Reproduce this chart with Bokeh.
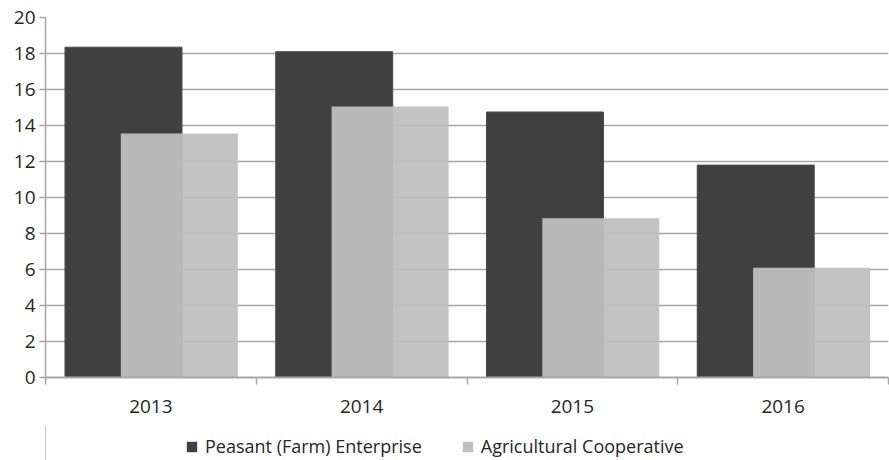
from bokeh.plotting import figure
from bokeh.layouts import column
from bokeh.models import ColumnDataSource, FixedTicker, SingleIntervalTicker, Range1d, Legend, LegendItem
from bokeh.embed import file_html
from bokeh.resources import INLINE

years = ["2013", "2014", "2015", "2016"]
peasant = [18.35, 18.1, 14.75, 11.8]
coop = [13.55, 15.05, 8.85, 6.1]
series_names = ["Peasant (Farm) Enterprise", "Agricultural Cooperative"]

FONT = "Open Sans"
GRID = "#a6a6a6"
TEXT = "#262626"
DARK = "#404040"
LIGHT = "#bfbfbf"

idx = list(range(len(years)))
centers = [i + 0.5 for i in idx]
src = ColumnDataSource(dict(
    xd=[c - 0.13 for c in centers],
    xl=[c + 0.135 for c in centers],
    peasant=peasant,
    coop=coop,
))

p = figure(width=889, height=425, output_backend="svg", toolbar_location=None,
           x_range=Range1d(0, len(years)), y_range=Range1d(0, 20),
           min_border_left=45, min_border_right=1, min_border_top=17, min_border_bottom=48)
p.outline_line_color = None
p.background_fill_color = "white"

r1 = p.vbar(x="xd", top="peasant", width=0.555, source=src, fill_color=DARK,
            line_color="#4a4a4a", line_width=1)
r2 = p.vbar(x="xl", top="coop", width=0.555, source=src, fill_color=LIGHT,
            fill_alpha=0.94, line_color=None)

p.xgrid.visible = False
p.ygrid.grid_line_color = GRID
p.ygrid.grid_line_width = 1.3
p.ygrid.ticker = SingleIntervalTicker(interval=2)

p.yaxis.ticker = SingleIntervalTicker(interval=2, num_minor_ticks=0)
p.yaxis.axis_line_color = GRID
p.yaxis.axis_line_width = 1.5
p.yaxis.major_tick_line_color = GRID
p.yaxis.major_tick_line_width = 1.5
p.yaxis.major_tick_in = 0
p.yaxis.major_tick_out = 6
p.yaxis.minor_tick_line_color = None
p.yaxis.major_label_text_font = FONT
p.yaxis.major_label_text_font_size = "19px"
p.yaxis.major_label_text_color = TEXT
p.yaxis.major_label_standoff = 4

p.xaxis.ticker = FixedTicker(ticks=centers, minor_ticks=[0] + [i + 1 for i in idx])
p.xaxis.major_label_overrides = {c: y for c, y in zip(centers, years)}
p.xaxis.axis_line_color = GRID
p.xaxis.axis_line_width = 2
p.xaxis.major_tick_line_color = None
p.xaxis.major_tick_out = 0
p.xaxis.major_tick_in = 0
p.xaxis.minor_tick_line_color = GRID
p.xaxis.minor_tick_line_width = 1.5
p.xaxis.minor_tick_in = 0
p.xaxis.minor_tick_out = 7
p.xaxis.major_label_text_font = FONT
p.xaxis.major_label_text_font_size = "19px"
p.xaxis.major_label_text_color = TEXT
p.xaxis.major_label_standoff = 15

# legend strip (separate figure under the chart); its swatch renderers sit off-screen
lg = figure(width=889, height=35, output_backend="svg", toolbar_location=None,
            x_range=Range1d(0, 1), y_range=Range1d(0, 1),
            min_border_left=0, min_border_right=0, min_border_top=0, min_border_bottom=0)
lg.outline_line_color = None
for ax in lg.axis:
    ax.axis_line_color = None
    ax.major_tick_line_color = None
    ax.minor_tick_line_color = None
    ax.major_label_text_font_size = "0px"
    ax.visible = False
lg.grid.visible = False
lg.border_fill_color = "white"
offscreen = ColumnDataSource(dict(x=[-10], top=[1]))
l1 = lg.vbar(x="x", top="top", width=0.1, source=offscreen, fill_color=DARK, line_color=None)
l2 = lg.vbar(x="x", top="top", width=0.1, source=offscreen, fill_color=LIGHT, line_color=None)
legend = Legend(items=[LegendItem(label=series_names[0], renderers=[l1]),
                       LegendItem(label=series_names[1], renderers=[l2])],
                orientation="horizontal", location=(140, 2),
                label_text_font=FONT, label_text_font_size="18px", label_text_color=TEXT,
                label_height=18,
                glyph_width=13, glyph_height=13, spacing=39, label_standoff=7,
                border_line_color=None, background_fill_alpha=0, padding=2, margin=0)
lg.add_layout(legend)

layout = column(p, lg, spacing=0)
open("out.html", "w").write(file_html(layout, INLINE))
